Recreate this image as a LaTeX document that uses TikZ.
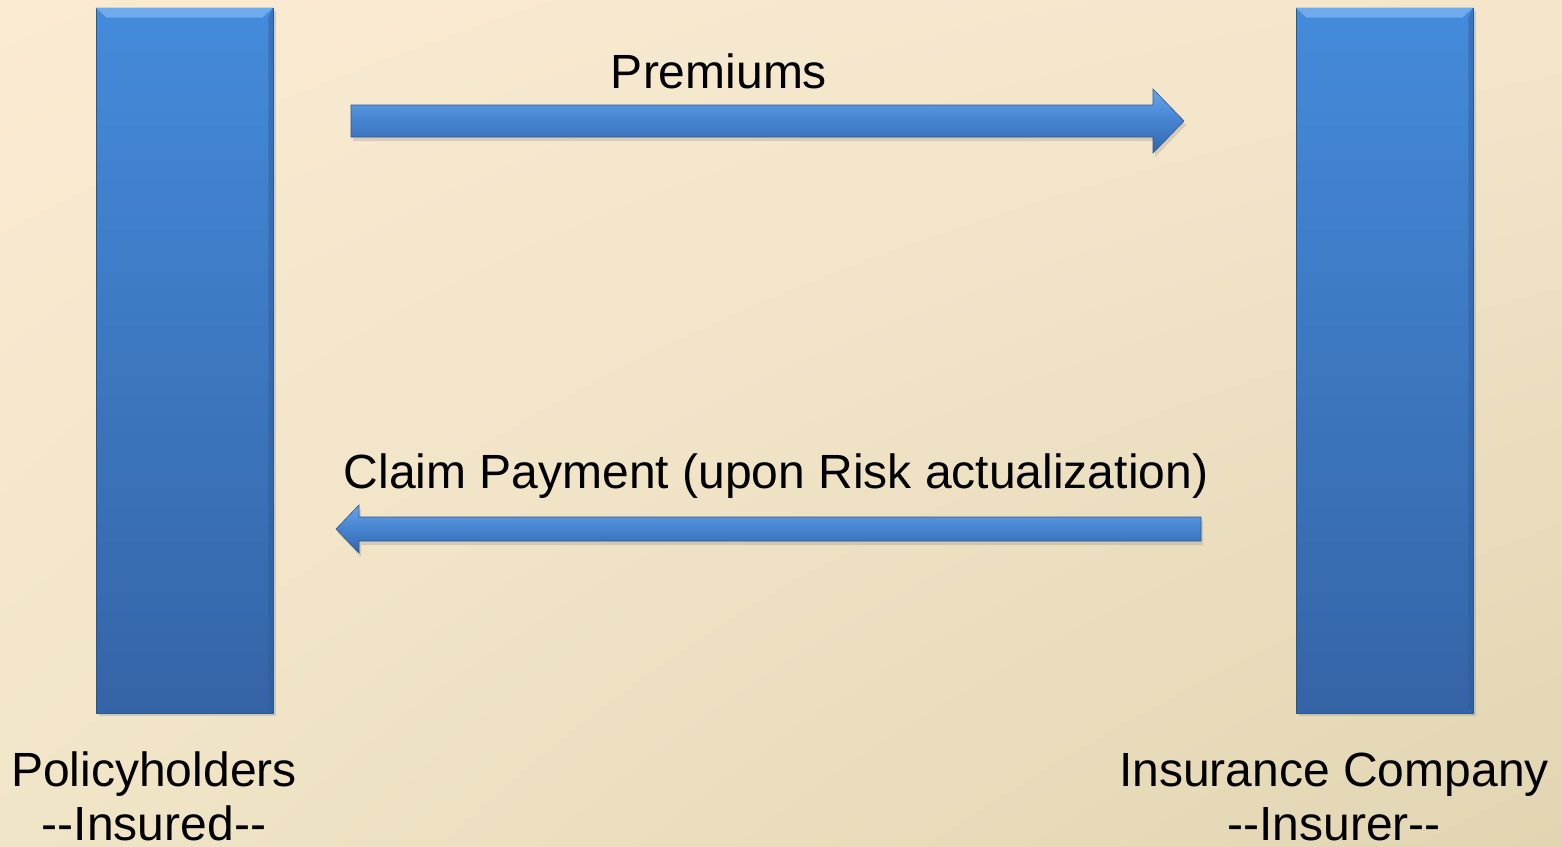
\documentclass[tikz,border=0pt]{standalone}
\usepackage{fontspec}
\setmainfont{Liberation Sans}
\usetikzlibrary{shadows,shadings}
\definecolor{bgTL}{HTML}{FAEBD2}
\definecolor{bgTR}{HTML}{F3E6CB}
\definecolor{bgBL}{HTML}{F1E5C8}
\definecolor{bgBR}{HTML}{E2D5B2}
\definecolor{barTop}{HTML}{448BDB}
\definecolor{barBot}{HTML}{3564A6}
\definecolor{barEdge}{HTML}{2D568F}
\definecolor{barHi}{HTML}{6EAAEC}
\definecolor{barShade}{HTML}{2F5A96}
\definecolor{arrTop}{HTML}{67A5EA}
\definecolor{arrMid}{HTML}{4583D0}
\definecolor{arrBot}{HTML}{3466AB}
\tikzset{
  barbox/.style={rectangle, draw=barEdge, line width=0.8pt, inner sep=0pt,
    minimum width=177pt, minimum height=705pt,
    top color=barTop, bottom color=barBot,
    drop shadow={opacity=0.28, shadow xshift=3pt, shadow yshift=-3pt}},
  bevel/.style={fill=barHi, draw=none},
  darkbevel/.style={fill=barShade, draw=none, opacity=0.45},
  fatarrow/.style={draw=barEdge, line width=0.6pt, line join=miter,
    top color=arrTop, bottom color=arrBot, middle color=arrMid,
    drop shadow={opacity=0.25, shadow xshift=2pt, shadow yshift=-4pt}},
  lbl/.style={font=\fontsize{48}{56}\selectfont, text=black, inner sep=0pt, anchor=base, align=center},
}
\begin{document}
\begin{tikzpicture}[x=1pt, y=-1pt]
  % background
  \shade[upper left=bgTL, upper right=bgTR, lower left=bgBL, lower right=bgBR]
    (0,0) rectangle (1562,846);
  \useasboundingbox (0,0) rectangle (1562,846);

  % bars
  \node[barbox] (insured) at (184.5,360.5) {};
  \node[barbox] (insurer) at (1384.5,360.5) {};
  \fill[bevel] (insured.north west) -- (insured.north east) -- ([xshift=-11pt,yshift=-10pt]insured.north east) -- ([xshift=11pt,yshift=-10pt]insured.north west) -- cycle;
  \fill[bevel] (insurer.north west) -- (insurer.north east) -- ([xshift=-11pt,yshift=-10pt]insurer.north east) -- ([xshift=11pt,yshift=-10pt]insurer.north west) -- cycle;
  \fill[darkbevel] (insured.north east) -- (insured.south east) -- ([xshift=-5pt,yshift=5pt]insured.south east) -- ([xshift=-5pt,yshift=-10pt]insured.north east) -- cycle;
  \fill[darkbevel] (insurer.north east) -- (insurer.south east) -- ([xshift=-5pt,yshift=5pt]insurer.south east) -- ([xshift=-5pt,yshift=-10pt]insurer.north east) -- cycle;

  % premium arrow
  \coordinate (pS) at (351,121);
  \coordinate (pT) at (1184,121);
  \path[fatarrow] ([yshift=16pt]pS) -- ([xshift=-31pt,yshift=16pt]pT) -- ([xshift=-31pt,yshift=32pt]pT)
     -- (pT) -- ([xshift=-31pt,yshift=-32pt]pT) -- ([xshift=-31pt,yshift=-16pt]pT) -- ([yshift=-16pt]pS) -- cycle;

  % claim arrow
  \coordinate (cS) at (1201,529);
  \coordinate (cT) at (336,529);
  \path[fatarrow] ([yshift=12pt]cS) -- ([xshift=23pt,yshift=12pt]cT) -- ([xshift=23pt,yshift=24pt]cT)
     -- (cT) -- ([xshift=23pt,yshift=-24pt]cT) -- ([xshift=23pt,yshift=-12pt]cT) -- ([yshift=-12pt]cS) -- cycle;

  % labels
  \node[lbl] (premLbl) at (719,88) {Premiums};
  \node[lbl] (claimLbl) at (776,488) {Claim Payment (upon Risk actualization)};
  \node[lbl] (polLbl) at (154,786) {Policyholders};
  \node[lbl] (insdLbl) at (154,840) {-{}-Insured-{}-};
  \node[lbl] (compLbl) at (1334,786) {Insurance Company};
  \node[lbl] (insrLbl) at (1334,840) {-{}-Insurer-{}-};
\end{tikzpicture}
\end{document}
